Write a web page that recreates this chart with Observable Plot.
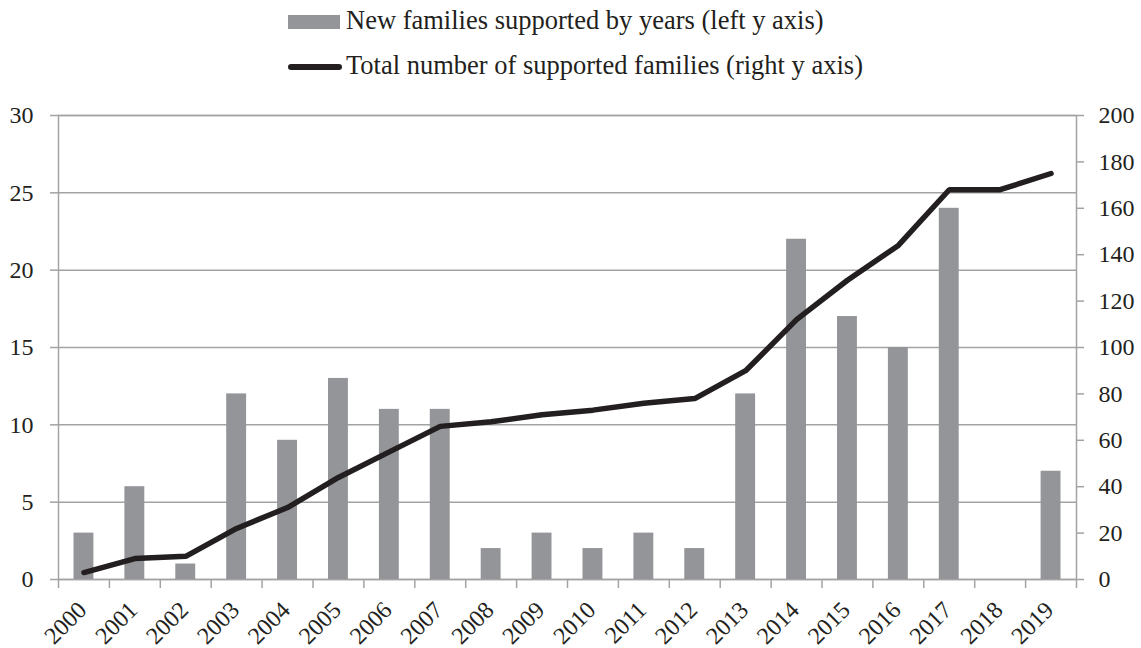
<!DOCTYPE html>
<html>
<head>
<meta charset="utf-8">
<script src="https://cdn.jsdelivr.net/npm/d3@7"></script>
<script src="https://cdn.jsdelivr.net/npm/@observablehq/plot@0.6"></script>
<style>
  body { margin: 0; background: #fff; font-family: "Liberation Serif", "Times New Roman", serif; color: #231f20; }
  #legend { position: relative; width: 1141px; height: 100px; }
  #legend .swatch-bar { position: absolute; left: 288px; top: 15px; width: 52px; height: 14px; background: #939598; }
  #legend .swatch-line { position: absolute; left: 288px; top: 64px; width: 54px; height: 6px; background: #231f20; border-radius: 3px; }
  #legend .label { position: absolute; left: 346px; font-size: 26.5px; line-height: 26.5px; white-space: nowrap; }
  #chart svg { display: block; }
</style>
</head>
<body>
<div id="legend">
  <div class="swatch-bar"></div>
  <div class="label" style="top:7px">New families supported by years (left y axis)</div>
  <div class="swatch-line"></div>
  <div class="label" style="top:52px">Total number of supported families (right y axis)</div>
</div>
<div id="chart"></div>
<script>
// Families supported each year and the running total
const years = [2000, 2001, 2002, 2003, 2004, 2005, 2006, 2007, 2008, 2009,
               2010, 2011, 2012, 2013, 2014, 2015, 2016, 2017, 2018, 2019];
const newFamilies = [3, 6, 1, 12, 9, 13, 11, 11, 2, 3, 2, 3, 2, 12, 22, 17, 15, 24, 0, 7];
const totalFamilies = [3, 9, 10, 22, 31, 44, 55, 66, 68, 71, 73, 76, 78, 90, 112, 129, 144, 168, 168, 175];

// Axis ticks
const leftTicks = [0, 5, 10, 15, 20, 25, 30];
const rightTicks = [0, 20, 40, 60, 80, 100, 120, 140, 160, 180, 200];
const yearBounds = [2000, 2001, 2002, 2003, 2004, 2005, 2006, 2007, 2008, 2009, 2010,
                    2011, 2012, 2013, 2014, 2015, 2016, 2017, 2018, 2019, 2020];

// Right axis (0–200) shares the plot with the left axis (0–30)
const rightToLeft = 30 / 200;

const rows = years.map((year, i) => ({year, added: newFamilies[i], total: totalFamilies[i]}));

const grey = "#a3a3a3";
const ink = "#231f20";
const serif = '"Liberation Serif", "Times New Roman", serif';

const chart = Plot.plot({
  width: 1141,
  height: 548,
  marginTop: 15,
  marginBottom: 69,
  marginLeft: 58,
  marginRight: 65,
  style: {fontFamily: serif, fontSize: "24px", color: ink, background: "#fff"},
  x: {domain: [2000, 2020], axis: null},
  y: {domain: [0, 30], axis: null},
  marks: [
    Plot.ruleY(leftTicks, {stroke: grey, strokeWidth: 1.5}),
    Plot.frame({stroke: grey, strokeWidth: 1.5}),
    Plot.rectY(rows, {
      x1: "year",
      x2: d => d.year + 1,
      y: "added",
      fill: "#939598",
      insetLeft: 15.5,
      insetRight: 15.5
    }),
    Plot.line(rows, {
      x: d => d.year + 0.5,
      y: d => d.total * rightToLeft,
      stroke: ink,
      strokeWidth: 5.5,
      strokeLinejoin: "miter"
    }),
    Plot.axisY(leftTicks, {
      anchor: "left",
      tickSize: 8,
      tickPadding: 17,
      stroke: grey,
      strokeWidth: 1.5,
      fill: ink,
      fontSize: 24,
      label: null
    }),
    Plot.axisY(rightTicks.map(v => v * rightToLeft), {
      anchor: "right",
      tickSize: 7,
      tickPadding: 15,
      stroke: grey,
      strokeWidth: 1.5,
      fill: ink,
      fontSize: 24,
      tickFormat: d => String(Math.round(d / rightToLeft)),
      label: null
    }),
    Plot.axisX(yearBounds, {
      anchor: "bottom",
      tickSize: 9,
      stroke: grey,
      strokeWidth: 1.5,
      tickFormat: () => "",
      label: null
    }),
    Plot.text(rows, {
      x: d => d.year + 0.5,
      text: d => String(d.year),
      frameAnchor: "bottom",
      rotate: -45,
      textAnchor: "end",
      lineAnchor: "bottom",
      dx: 4,
      dy: 32,
      fontSize: 24,
      fill: ink
    })
  ]
});

document.getElementById("chart").appendChild(chart);
</script>
</body>
</html>
